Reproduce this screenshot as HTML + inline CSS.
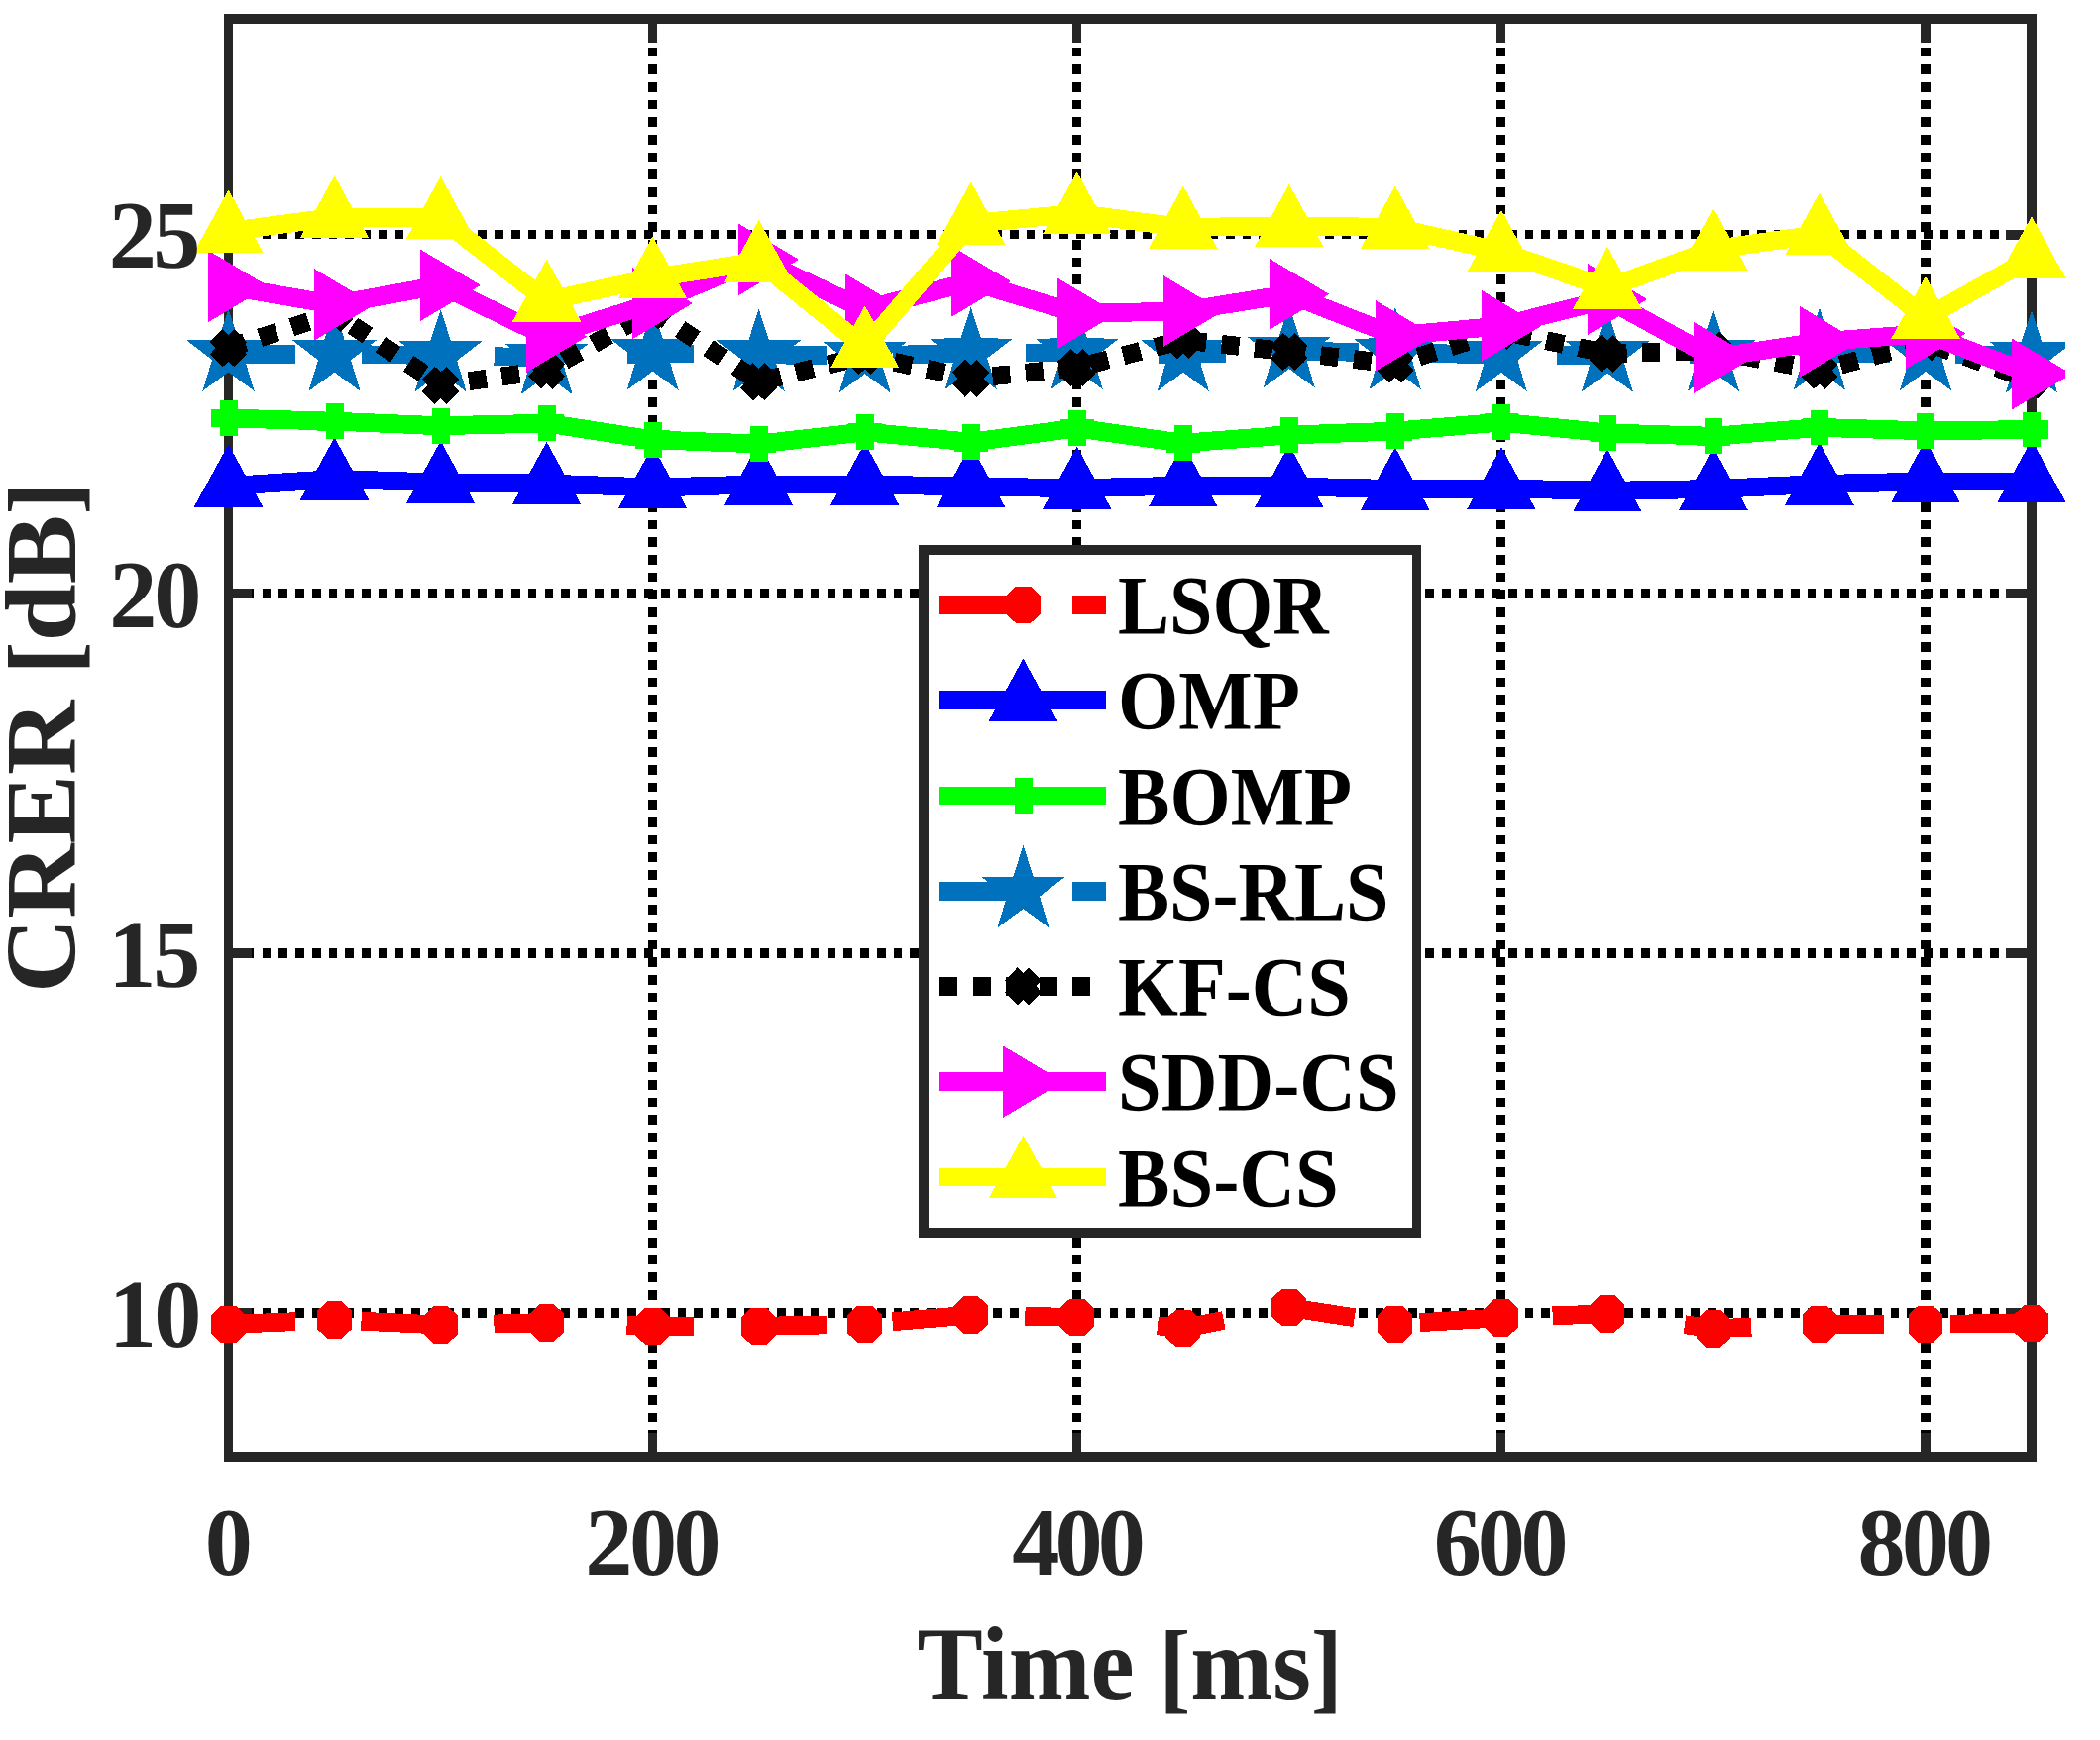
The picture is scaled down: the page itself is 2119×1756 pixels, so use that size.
<!DOCTYPE html>
<html lang="en"><head><meta charset="utf-8"><title>CRER vs Time</title>
<style>html,body{margin:0;padding:0;background:#fff}body{width:2119px;height:1756px;overflow:hidden}</style></head>
<body>
<svg width="2119" height="1756" viewBox="0 0 2119 1756" style="display:block" shape-rendering="crispEdges">
<defs><clipPath id="cp"><rect x="0" y="0" width="2084.1" height="1756"/></clipPath></defs>
<rect width="2119" height="1756" fill="#fff"/>
<g stroke="#000" fill="none">
<line x1="658.6" y1="1470.8" x2="658.6" y2="18.8" stroke-width="9" stroke-dasharray="9.7 7.97"/>
<line x1="1086.7" y1="1470.8" x2="1086.7" y2="18.8" stroke-width="9" stroke-dasharray="9.7 7.97"/>
<line x1="1514.9" y1="1470.8" x2="1514.9" y2="18.8" stroke-width="9" stroke-dasharray="9.7 7.97"/>
<line x1="1943.0" y1="1470.8" x2="1943.0" y2="18.8" stroke-width="10" stroke-dasharray="9.7 7.97"/>
<line x1="231.0" y1="1324.9" x2="2050.0" y2="1324.9" stroke-width="9.9" stroke-dasharray="8.7 8.065"/>
<line x1="231.0" y1="962.1" x2="2050.0" y2="962.1" stroke-width="9.9" stroke-dasharray="8.7 8.065"/>
<line x1="231.0" y1="599.3" x2="2050.0" y2="599.3" stroke-width="9.9" stroke-dasharray="8.7 8.065"/>
<line x1="231.0" y1="236.5" x2="2050.0" y2="236.5" stroke-width="9.9" stroke-dasharray="8.7 8.065"/>
</g>
<g stroke="#262626" fill="none" stroke-width="10">
<line x1="658.6" y1="1470.0" x2="658.6" y2="1445.7" stroke-width="9"/>
<line x1="658.6" y1="18.8" x2="658.6" y2="42.9" stroke-width="9"/>
<line x1="1086.7" y1="1470.0" x2="1086.7" y2="1445.7" stroke-width="9"/>
<line x1="1086.7" y1="18.8" x2="1086.7" y2="42.9" stroke-width="9"/>
<line x1="1514.9" y1="1470.0" x2="1514.9" y2="1445.7" stroke-width="9"/>
<line x1="1514.9" y1="18.8" x2="1514.9" y2="42.9" stroke-width="9"/>
<line x1="1943.0" y1="1470.0" x2="1943.0" y2="1445.7" stroke-width="10"/>
<line x1="1943.0" y1="18.8" x2="1943.0" y2="42.9" stroke-width="10"/>
<line x1="230.5" y1="1324.9" x2="254.3" y2="1324.9"/>
<line x1="2050.0" y1="1324.9" x2="2024.1" y2="1324.9"/>
<line x1="230.5" y1="962.1" x2="254.3" y2="962.1"/>
<line x1="2050.0" y1="962.1" x2="2024.1" y2="962.1"/>
<line x1="230.5" y1="599.3" x2="254.3" y2="599.3"/>
<line x1="2050.0" y1="599.3" x2="2024.1" y2="599.3"/>
<line x1="230.5" y1="236.5" x2="254.3" y2="236.5"/>
<line x1="2050.0" y1="236.5" x2="2024.1" y2="236.5"/>
</g>
<rect x="230.5" y="18.8" width="1819.5" height="1451.2" fill="none" stroke="#262626" stroke-width="9.6"/>
<g clip-path="url(#cp)" shape-rendering="crispEdges">
<polyline fill="none" stroke="#ff0000" stroke-width="18.8" stroke-linejoin="round" points="230.5,1336.5 337.5,1332.0 444.6,1337.0 551.6,1335.0 658.6,1338.3 765.6,1338.3 872.7,1336.2 979.7,1327.0 1086.7,1329.5 1193.8,1340.5 1300.8,1319.5 1407.8,1336.2 1514.9,1329.8 1621.9,1325.8 1728.9,1340.8 1835.9,1336.2 1943.0,1336.2 2050.0,1335.5" stroke-dasharray="67.6 66.5"/>
<polygon fill="#ff0000" points="223.1,1317.8 237.9,1317.8 247.9,1327.3 247.9,1345.7 237.9,1355.2 223.1,1355.2 213.1,1345.7 213.1,1327.3"/>
<polygon fill="#ff0000" points="330.1,1313.2 344.9,1313.2 354.9,1322.8 354.9,1341.2 344.9,1350.8 330.1,1350.8 320.1,1341.2 320.1,1322.8"/>
<polygon fill="#ff0000" points="437.2,1318.2 452.0,1318.2 462.0,1327.8 462.0,1346.2 452.0,1355.8 437.2,1355.8 427.2,1346.2 427.2,1327.8"/>
<polygon fill="#ff0000" points="544.2,1316.2 559.0,1316.2 569.0,1325.8 569.0,1344.2 559.0,1353.8 544.2,1353.8 534.2,1344.2 534.2,1325.8"/>
<polygon fill="#ff0000" points="651.2,1319.5 666.0,1319.5 676.0,1329.1 676.0,1347.5 666.0,1357.0 651.2,1357.0 641.2,1347.5 641.2,1329.1"/>
<polygon fill="#ff0000" points="758.2,1319.5 773.0,1319.5 783.0,1329.1 783.0,1347.5 773.0,1357.0 758.2,1357.0 748.2,1347.5 748.2,1329.1"/>
<polygon fill="#ff0000" points="865.3,1317.5 880.1,1317.5 890.1,1327.0 890.1,1345.4 880.1,1355.0 865.3,1355.0 855.3,1345.4 855.3,1327.0"/>
<polygon fill="#ff0000" points="972.3,1308.2 987.1,1308.2 997.1,1317.8 997.1,1336.2 987.1,1345.8 972.3,1345.8 962.3,1336.2 962.3,1317.8"/>
<polygon fill="#ff0000" points="1079.3,1310.8 1094.1,1310.8 1104.1,1320.3 1104.1,1338.7 1094.1,1348.2 1079.3,1348.2 1069.3,1338.7 1069.3,1320.3"/>
<polygon fill="#ff0000" points="1186.4,1321.8 1201.2,1321.8 1211.2,1331.3 1211.2,1349.7 1201.2,1359.2 1186.4,1359.2 1176.4,1349.7 1176.4,1331.3"/>
<polygon fill="#ff0000" points="1293.4,1300.8 1308.2,1300.8 1318.2,1310.3 1318.2,1328.7 1308.2,1338.2 1293.4,1338.2 1283.4,1328.7 1283.4,1310.3"/>
<polygon fill="#ff0000" points="1400.4,1317.5 1415.2,1317.5 1425.2,1327.0 1425.2,1345.4 1415.2,1355.0 1400.4,1355.0 1390.4,1345.4 1390.4,1327.0"/>
<polygon fill="#ff0000" points="1507.5,1311.0 1522.3,1311.0 1532.3,1320.6 1532.3,1339.0 1522.3,1348.5 1507.5,1348.5 1497.5,1339.0 1497.5,1320.6"/>
<polygon fill="#ff0000" points="1614.5,1307.0 1629.3,1307.0 1639.3,1316.6 1639.3,1335.0 1629.3,1344.5 1614.5,1344.5 1604.5,1335.0 1604.5,1316.6"/>
<polygon fill="#ff0000" points="1721.5,1322.0 1736.3,1322.0 1746.3,1331.6 1746.3,1350.0 1736.3,1359.5 1721.5,1359.5 1711.5,1350.0 1711.5,1331.6"/>
<polygon fill="#ff0000" points="1828.5,1317.5 1843.3,1317.5 1853.3,1327.0 1853.3,1345.4 1843.3,1355.0 1828.5,1355.0 1818.5,1345.4 1818.5,1327.0"/>
<polygon fill="#ff0000" points="1935.6,1317.5 1950.4,1317.5 1960.4,1327.0 1960.4,1345.4 1950.4,1355.0 1935.6,1355.0 1925.6,1345.4 1925.6,1327.0"/>
<polygon fill="#ff0000" points="2042.6,1316.8 2057.4,1316.8 2067.4,1326.3 2067.4,1344.7 2057.4,1354.2 2042.6,1354.2 2032.6,1344.7 2032.6,1326.3"/>
<polyline fill="none" stroke="#0000ff" stroke-width="18.8" stroke-linejoin="round" points="230.5,490.5 337.5,483.5 444.6,487.0 551.6,488.0 658.6,492.0 765.6,489.0 872.7,489.0 979.7,491.0 1086.7,492.7 1193.8,490.2 1300.8,491.0 1407.8,493.5 1514.9,493.0 1621.9,495.3 1728.9,493.5 1835.9,488.5 1943.0,486.0 2050.0,486.0"/>
<polygon fill="#0000ff" points="230.5,448.5 195.8,511.5 265.2,511.5"/>
<polygon fill="#0000ff" points="337.5,441.5 302.8,504.5 372.2,504.5"/>
<polygon fill="#0000ff" points="444.6,445.0 409.9,508.0 479.3,508.0"/>
<polygon fill="#0000ff" points="551.6,446.0 516.9,509.0 586.3,509.0"/>
<polygon fill="#0000ff" points="658.6,450.0 623.9,513.0 693.3,513.0"/>
<polygon fill="#0000ff" points="765.6,447.0 730.9,510.0 800.3,510.0"/>
<polygon fill="#0000ff" points="872.7,447.0 838.0,510.0 907.4,510.0"/>
<polygon fill="#0000ff" points="979.7,449.0 945.0,512.0 1014.4,512.0"/>
<polygon fill="#0000ff" points="1086.7,450.7 1052.0,513.7 1121.4,513.7"/>
<polygon fill="#0000ff" points="1193.8,448.2 1159.1,511.2 1228.5,511.2"/>
<polygon fill="#0000ff" points="1300.8,449.0 1266.1,512.0 1335.5,512.0"/>
<polygon fill="#0000ff" points="1407.8,451.5 1373.1,514.5 1442.5,514.5"/>
<polygon fill="#0000ff" points="1514.9,451.0 1480.2,514.0 1549.6,514.0"/>
<polygon fill="#0000ff" points="1621.9,453.3 1587.2,516.3 1656.6,516.3"/>
<polygon fill="#0000ff" points="1728.9,451.5 1694.2,514.5 1763.6,514.5"/>
<polygon fill="#0000ff" points="1835.9,446.5 1801.2,509.5 1870.6,509.5"/>
<polygon fill="#0000ff" points="1943.0,444.0 1908.3,507.0 1977.7,507.0"/>
<polygon fill="#0000ff" points="2050.0,444.0 2015.3,507.0 2084.7,507.0"/>
<polyline fill="none" stroke="#00ff00" stroke-width="18.8" stroke-linejoin="round" points="230.5,422.0 337.5,425.2 444.6,429.7 551.6,427.1 658.6,443.8 765.6,448.0 872.7,435.9 979.7,446.2 1086.7,432.0 1193.8,447.2 1300.8,439.0 1407.8,435.1 1514.9,426.1 1621.9,436.9 1728.9,440.3 1835.9,431.4 1943.0,434.8 2050.0,433.5"/>
<polygon fill="#00ff00" points="221.5,404.1 239.5,404.1 239.5,412.6 247.7,412.6 247.7,431.4 239.5,431.4 239.5,439.9 221.5,439.9 221.5,431.4 213.3,431.4 213.3,412.6 221.5,412.6"/>
<polygon fill="#00ff00" points="328.5,407.3 346.5,407.3 346.5,415.8 354.7,415.8 354.7,434.6 346.5,434.6 346.5,443.1 328.5,443.1 328.5,434.6 320.3,434.6 320.3,415.8 328.5,415.8"/>
<polygon fill="#00ff00" points="435.6,411.8 453.6,411.8 453.6,420.3 461.8,420.3 461.8,439.1 453.6,439.1 453.6,447.6 435.6,447.6 435.6,439.1 427.4,439.1 427.4,420.3 435.6,420.3"/>
<polygon fill="#00ff00" points="542.6,409.2 560.6,409.2 560.6,417.7 568.8,417.7 568.8,436.5 560.6,436.5 560.6,445.0 542.6,445.0 542.6,436.5 534.4,436.5 534.4,417.7 542.6,417.7"/>
<polygon fill="#00ff00" points="649.6,425.9 667.6,425.9 667.6,434.4 675.8,434.4 675.8,453.2 667.6,453.2 667.6,461.7 649.6,461.7 649.6,453.2 641.4,453.2 641.4,434.4 649.6,434.4"/>
<polygon fill="#00ff00" points="756.6,430.1 774.6,430.1 774.6,438.6 782.8,438.6 782.8,457.4 774.6,457.4 774.6,465.9 756.6,465.9 756.6,457.4 748.4,457.4 748.4,438.6 756.6,438.6"/>
<polygon fill="#00ff00" points="863.7,418.0 881.7,418.0 881.7,426.5 889.9,426.5 889.9,445.3 881.7,445.3 881.7,453.8 863.7,453.8 863.7,445.3 855.5,445.3 855.5,426.5 863.7,426.5"/>
<polygon fill="#00ff00" points="970.7,428.3 988.7,428.3 988.7,436.8 996.9,436.8 996.9,455.6 988.7,455.6 988.7,464.1 970.7,464.1 970.7,455.6 962.5,455.6 962.5,436.8 970.7,436.8"/>
<polygon fill="#00ff00" points="1077.7,414.1 1095.7,414.1 1095.7,422.6 1103.9,422.6 1103.9,441.4 1095.7,441.4 1095.7,449.9 1077.7,449.9 1077.7,441.4 1069.5,441.4 1069.5,422.6 1077.7,422.6"/>
<polygon fill="#00ff00" points="1184.8,429.3 1202.8,429.3 1202.8,437.8 1211.0,437.8 1211.0,456.6 1202.8,456.6 1202.8,465.1 1184.8,465.1 1184.8,456.6 1176.6,456.6 1176.6,437.8 1184.8,437.8"/>
<polygon fill="#00ff00" points="1291.8,421.1 1309.8,421.1 1309.8,429.6 1318.0,429.6 1318.0,448.4 1309.8,448.4 1309.8,456.9 1291.8,456.9 1291.8,448.4 1283.6,448.4 1283.6,429.6 1291.8,429.6"/>
<polygon fill="#00ff00" points="1398.8,417.2 1416.8,417.2 1416.8,425.7 1425.0,425.7 1425.0,444.5 1416.8,444.5 1416.8,453.0 1398.8,453.0 1398.8,444.5 1390.6,444.5 1390.6,425.7 1398.8,425.7"/>
<polygon fill="#00ff00" points="1505.9,408.2 1523.9,408.2 1523.9,416.7 1532.1,416.7 1532.1,435.5 1523.9,435.5 1523.9,444.0 1505.9,444.0 1505.9,435.5 1497.7,435.5 1497.7,416.7 1505.9,416.7"/>
<polygon fill="#00ff00" points="1612.9,419.0 1630.9,419.0 1630.9,427.5 1639.1,427.5 1639.1,446.3 1630.9,446.3 1630.9,454.8 1612.9,454.8 1612.9,446.3 1604.7,446.3 1604.7,427.5 1612.9,427.5"/>
<polygon fill="#00ff00" points="1719.9,422.4 1737.9,422.4 1737.9,430.9 1746.1,430.9 1746.1,449.7 1737.9,449.7 1737.9,458.2 1719.9,458.2 1719.9,449.7 1711.7,449.7 1711.7,430.9 1719.9,430.9"/>
<polygon fill="#00ff00" points="1826.9,413.5 1844.9,413.5 1844.9,422.0 1853.1,422.0 1853.1,440.8 1844.9,440.8 1844.9,449.3 1826.9,449.3 1826.9,440.8 1818.7,440.8 1818.7,422.0 1826.9,422.0"/>
<polygon fill="#00ff00" points="1934.0,416.9 1952.0,416.9 1952.0,425.4 1960.2,425.4 1960.2,444.2 1952.0,444.2 1952.0,452.7 1934.0,452.7 1934.0,444.2 1925.8,444.2 1925.8,425.4 1934.0,425.4"/>
<polygon fill="#00ff00" points="2041.0,415.6 2059.0,415.6 2059.0,424.1 2067.2,424.1 2067.2,442.9 2059.0,442.9 2059.0,451.4 2041.0,451.4 2041.0,442.9 2032.8,442.9 2032.8,424.1 2041.0,424.1"/>
<polyline fill="none" stroke="#0072bd" stroke-width="18.8" stroke-linejoin="round" points="230.5,357.5 337.5,357.7 444.6,358.3 551.6,361.0 658.6,356.7 765.6,357.7 872.7,359.3 979.7,355.9 1086.7,355.9 1193.8,357.7 1300.8,354.2 1407.8,355.9 1514.9,358.0 1621.9,358.5 1728.9,357.7 1835.9,356.5 1943.0,357.0 2050.0,359.3" stroke-dasharray="67.6 66.5"/>
<polygon fill="#0072bd" points="230.5,311.5 240.7,342.9 272.7,343.3 247.0,363.1 256.6,394.7 230.5,375.5 204.4,394.7 214.0,363.1 188.3,343.3 220.3,342.9"/>
<polygon fill="#0072bd" points="337.5,311.7 347.7,343.1 379.7,343.5 354.0,363.3 363.6,394.9 337.5,375.7 311.4,394.9 321.0,363.3 295.3,343.5 327.3,343.1"/>
<polygon fill="#0072bd" points="444.6,312.3 454.8,343.7 486.8,344.1 461.1,363.9 470.7,395.5 444.6,376.3 418.5,395.5 428.0,363.9 402.3,344.1 434.3,343.7"/>
<polygon fill="#0072bd" points="551.6,315.0 561.8,346.4 593.8,346.8 568.1,366.6 577.7,398.2 551.6,379.0 525.5,398.2 535.1,366.6 509.4,346.8 541.4,346.4"/>
<polygon fill="#0072bd" points="658.6,310.7 668.8,342.1 700.8,342.5 675.1,362.3 684.7,393.9 658.6,374.7 632.5,393.9 642.1,362.3 616.4,342.5 648.4,342.1"/>
<polygon fill="#0072bd" points="765.6,311.7 775.9,343.1 807.9,343.5 782.2,363.3 791.7,394.9 765.6,375.7 739.6,394.9 749.1,363.3 723.4,343.5 755.4,343.1"/>
<polygon fill="#0072bd" points="872.7,313.3 882.9,344.7 914.9,345.1 889.2,364.9 898.8,396.5 872.7,377.3 846.6,396.5 856.2,364.9 830.5,345.1 862.5,344.7"/>
<polygon fill="#0072bd" points="979.7,309.9 989.9,341.3 1021.9,341.7 996.2,361.5 1005.8,393.1 979.7,373.9 953.6,393.1 963.2,361.5 937.5,341.7 969.5,341.3"/>
<polygon fill="#0072bd" points="1086.7,309.9 1096.9,341.3 1129.0,341.7 1103.3,361.5 1112.8,393.1 1086.7,373.9 1060.6,393.1 1070.2,361.5 1044.5,341.7 1076.5,341.3"/>
<polygon fill="#0072bd" points="1193.8,311.7 1204.0,343.1 1236.0,343.5 1210.3,363.3 1219.9,394.9 1193.8,375.7 1167.7,394.9 1177.2,363.3 1151.5,343.5 1183.6,343.1"/>
<polygon fill="#0072bd" points="1300.8,308.2 1311.0,339.6 1343.0,340.0 1317.3,359.8 1326.9,391.4 1300.8,372.2 1274.7,391.4 1284.3,359.8 1258.6,340.0 1290.6,339.6"/>
<polygon fill="#0072bd" points="1407.8,309.9 1418.0,341.3 1450.0,341.7 1424.3,361.5 1433.9,393.1 1407.8,373.9 1381.7,393.1 1391.3,361.5 1365.6,341.7 1397.6,341.3"/>
<polygon fill="#0072bd" points="1514.9,312.0 1525.1,343.4 1557.1,343.8 1531.4,363.6 1540.9,395.2 1514.9,376.0 1488.8,395.2 1498.3,363.6 1472.6,343.8 1504.6,343.4"/>
<polygon fill="#0072bd" points="1621.9,312.5 1632.1,343.9 1664.1,344.3 1638.4,364.1 1648.0,395.7 1621.9,376.5 1595.8,395.7 1605.4,364.1 1579.7,344.3 1611.7,343.9"/>
<polygon fill="#0072bd" points="1728.9,311.7 1739.1,343.1 1771.1,343.5 1745.4,363.3 1755.0,394.9 1728.9,375.7 1702.8,394.9 1712.4,363.3 1686.7,343.5 1718.7,343.1"/>
<polygon fill="#0072bd" points="1835.9,310.5 1846.2,341.9 1878.2,342.3 1852.5,362.1 1862.0,393.7 1835.9,374.5 1809.8,393.7 1819.4,362.1 1793.7,342.3 1825.7,341.9"/>
<polygon fill="#0072bd" points="1943.0,311.0 1953.2,342.4 1985.2,342.8 1959.5,362.6 1969.1,394.2 1943.0,375.0 1916.9,394.2 1926.5,362.6 1900.8,342.8 1932.8,342.4"/>
<polygon fill="#0072bd" points="2050.0,313.3 2060.2,344.7 2092.2,345.1 2066.5,364.9 2076.1,396.5 2050.0,377.3 2023.9,396.5 2033.5,364.9 2007.8,345.1 2039.8,344.7"/>
<line x1="230.5" y1="351.3" x2="337.5" y2="316.0" stroke="#000" stroke-width="18.8" stroke-dasharray="18.11 15.59" stroke-dashoffset="0.31"/>
<line x1="337.5" y1="316.0" x2="444.6" y2="388.8" stroke="#000" stroke-width="18.8" stroke-dasharray="18.30 15.76" stroke-dashoffset="11.93"/>
<line x1="444.6" y1="388.8" x2="551.6" y2="373.6" stroke="#000" stroke-width="18.8" stroke-dasharray="18.04 15.53" stroke-dashoffset="4.84"/>
<line x1="551.6" y1="373.6" x2="658.6" y2="313.5" stroke="#000" stroke-width="18.8" stroke-dasharray="18.23 15.70" stroke-dashoffset="14.06"/>
<line x1="658.6" y1="313.5" x2="765.6" y2="385.3" stroke="#000" stroke-width="18.8" stroke-dasharray="18.30 15.76" stroke-dashoffset="0.71"/>
<line x1="765.6" y1="385.3" x2="872.7" y2="359.0" stroke="#000" stroke-width="18.8" stroke-dasharray="18.07 15.56" stroke-dashoffset="28.64"/>
<line x1="872.7" y1="359.0" x2="979.7" y2="381.8" stroke="#000" stroke-width="18.8" stroke-dasharray="18.06 15.55" stroke-dashoffset="3.18"/>
<line x1="979.7" y1="381.8" x2="1086.7" y2="371.1" stroke="#000" stroke-width="18.8" stroke-dasharray="18.03 15.52" stroke-dashoffset="11.66"/>
<line x1="1086.7" y1="371.1" x2="1193.8" y2="343.1" stroke="#000" stroke-width="18.8" stroke-dasharray="18.08 15.56" stroke-dashoffset="19.16"/>
<line x1="1193.8" y1="343.1" x2="1300.8" y2="355.0" stroke="#000" stroke-width="18.8" stroke-dasharray="18.03 15.53" stroke-dashoffset="28.07"/>
<line x1="1300.8" y1="355.0" x2="1407.8" y2="367.4" stroke="#000" stroke-width="18.8" stroke-dasharray="18.03 15.53" stroke-dashoffset="1.56"/>
<line x1="1407.8" y1="367.4" x2="1514.9" y2="334.0" stroke="#000" stroke-width="18.8" stroke-dasharray="18.10 15.58" stroke-dashoffset="9.05"/>
<line x1="1514.9" y1="334.0" x2="1621.9" y2="356.8" stroke="#000" stroke-width="18.8" stroke-dasharray="18.06 15.55" stroke-dashoffset="20.82"/>
<line x1="1621.9" y1="356.8" x2="1728.9" y2="353.5" stroke="#000" stroke-width="18.8" stroke-dasharray="18.02 15.52" stroke-dashoffset="31.80"/>
<line x1="1728.9" y1="353.5" x2="1835.9" y2="373.9" stroke="#000" stroke-width="18.8" stroke-dasharray="18.05 15.54" stroke-dashoffset="3.49"/>
<line x1="1835.9" y1="373.9" x2="1943.0" y2="345.3" stroke="#000" stroke-width="18.8" stroke-dasharray="18.08 15.57" stroke-dashoffset="11.68"/>
<line x1="1943.0" y1="345.3" x2="2050.0" y2="383.5" stroke="#000" stroke-width="18.8" stroke-dasharray="18.12 15.60" stroke-dashoffset="25.11"/>
<polygon fill="#000000" points="224.6,332.3 230.5,337.8 236.4,332.3 249.2,345.2 243.6,351.3 249.2,357.4 236.4,370.3 230.5,364.8 224.6,370.3 211.8,357.4 217.4,351.3 211.8,345.2"/>
<polygon fill="#000000" points="331.6,297.0 337.5,302.5 343.4,297.0 356.2,309.9 350.6,316.0 356.2,322.1 343.4,335.0 337.5,329.5 331.6,335.0 318.8,322.1 324.4,316.0 318.8,309.9"/>
<polygon fill="#000000" points="438.7,369.8 444.6,375.3 450.5,369.8 463.3,382.7 457.7,388.8 463.3,394.9 450.5,407.8 444.6,402.3 438.7,407.8 425.9,394.9 431.5,388.8 425.9,382.7"/>
<polygon fill="#000000" points="545.7,354.6 551.6,360.1 557.5,354.6 570.3,367.5 564.7,373.6 570.3,379.7 557.5,392.6 551.6,387.1 545.7,392.6 532.9,379.7 538.5,373.6 532.9,367.5"/>
<polygon fill="#000000" points="652.7,294.5 658.6,300.0 664.5,294.5 677.3,307.4 671.7,313.5 677.3,319.6 664.5,332.5 658.6,327.0 652.7,332.5 639.9,319.6 645.5,313.5 639.9,307.4"/>
<polygon fill="#000000" points="759.7,366.3 765.6,371.8 771.5,366.3 784.3,379.2 778.7,385.3 784.3,391.4 771.5,404.3 765.6,398.8 759.7,404.3 746.9,391.4 752.5,385.3 746.9,379.2"/>
<polygon fill="#000000" points="866.8,340.0 872.7,345.5 878.6,340.0 891.4,352.9 885.8,359.0 891.4,365.1 878.6,378.0 872.7,372.5 866.8,378.0 854.0,365.1 859.6,359.0 854.0,352.9"/>
<polygon fill="#000000" points="973.8,362.8 979.7,368.3 985.6,362.8 998.4,375.7 992.8,381.8 998.4,387.9 985.6,400.8 979.7,395.3 973.8,400.8 961.0,387.9 966.6,381.8 961.0,375.7"/>
<polygon fill="#000000" points="1080.8,352.1 1086.7,357.6 1092.6,352.1 1105.4,365.0 1099.8,371.1 1105.4,377.2 1092.6,390.1 1086.7,384.6 1080.8,390.1 1068.0,377.2 1073.6,371.1 1068.0,365.0"/>
<polygon fill="#000000" points="1187.9,324.1 1193.8,329.6 1199.7,324.1 1212.5,337.0 1206.9,343.1 1212.5,349.2 1199.7,362.1 1193.8,356.6 1187.9,362.1 1175.1,349.2 1180.7,343.1 1175.1,337.0"/>
<polygon fill="#000000" points="1294.9,336.0 1300.8,341.5 1306.7,336.0 1319.5,348.9 1313.9,355.0 1319.5,361.1 1306.7,374.0 1300.8,368.5 1294.9,374.0 1282.1,361.1 1287.7,355.0 1282.1,348.9"/>
<polygon fill="#000000" points="1401.9,348.4 1407.8,353.9 1413.7,348.4 1426.5,361.3 1420.9,367.4 1426.5,373.5 1413.7,386.4 1407.8,380.9 1401.9,386.4 1389.1,373.5 1394.7,367.4 1389.1,361.3"/>
<polygon fill="#000000" points="1509.0,315.0 1514.9,320.5 1520.8,315.0 1533.6,327.9 1528.0,334.0 1533.6,340.1 1520.8,353.0 1514.9,347.5 1509.0,353.0 1496.2,340.1 1501.8,334.0 1496.2,327.9"/>
<polygon fill="#000000" points="1616.0,337.8 1621.9,343.3 1627.8,337.8 1640.6,350.7 1635.0,356.8 1640.6,362.9 1627.8,375.8 1621.9,370.3 1616.0,375.8 1603.2,362.9 1608.8,356.8 1603.2,350.7"/>
<polygon fill="#000000" points="1723.0,334.5 1728.9,340.0 1734.8,334.5 1747.6,347.4 1742.0,353.5 1747.6,359.6 1734.8,372.5 1728.9,367.0 1723.0,372.5 1710.2,359.6 1715.8,353.5 1710.2,347.4"/>
<polygon fill="#000000" points="1830.0,354.9 1835.9,360.4 1841.8,354.9 1854.6,367.8 1849.0,373.9 1854.6,380.0 1841.8,392.9 1835.9,387.4 1830.0,392.9 1817.2,380.0 1822.8,373.9 1817.2,367.8"/>
<polygon fill="#000000" points="1937.1,326.3 1943.0,331.8 1948.9,326.3 1961.7,339.2 1956.1,345.3 1961.7,351.4 1948.9,364.3 1943.0,358.8 1937.1,364.3 1924.3,351.4 1929.9,345.3 1924.3,339.2"/>
<polygon fill="#000000" points="2044.1,364.5 2050.0,370.0 2055.9,364.5 2068.7,377.4 2063.1,383.5 2068.7,389.6 2055.9,402.5 2050.0,397.0 2044.1,402.5 2031.3,389.6 2036.9,383.5 2031.3,377.4"/>
<polyline fill="none" stroke="#ff00ff" stroke-width="18.8" stroke-linejoin="round" points="230.5,288.9 337.5,307.4 444.6,287.8 551.6,339.7 658.6,306.0 765.6,261.9 872.7,312.2 979.7,284.0 1086.7,316.3 1193.8,314.0 1300.8,296.8 1407.8,338.9 1514.9,328.9 1621.9,302.0 1728.9,360.9 1835.9,344.9 1943.0,336.6 2050.0,377.5"/>
<polygon fill="#ff00ff" points="210.3,252.8 210.3,325.0 270.9,288.9"/>
<polygon fill="#ff00ff" points="317.3,271.3 317.3,343.5 377.9,307.4"/>
<polygon fill="#ff00ff" points="424.4,251.7 424.4,323.9 485.0,287.8"/>
<polygon fill="#ff00ff" points="531.4,303.6 531.4,375.8 592.0,339.7"/>
<polygon fill="#ff00ff" points="638.4,269.9 638.4,342.1 699.0,306.0"/>
<polygon fill="#ff00ff" points="745.4,225.8 745.4,298.0 806.0,261.9"/>
<polygon fill="#ff00ff" points="852.5,276.1 852.5,348.3 913.1,312.2"/>
<polygon fill="#ff00ff" points="959.5,247.9 959.5,320.1 1020.1,284.0"/>
<polygon fill="#ff00ff" points="1066.5,280.2 1066.5,352.4 1127.1,316.3"/>
<polygon fill="#ff00ff" points="1173.6,277.9 1173.6,350.1 1234.2,314.0"/>
<polygon fill="#ff00ff" points="1280.6,260.7 1280.6,332.9 1341.2,296.8"/>
<polygon fill="#ff00ff" points="1387.6,302.8 1387.6,375.0 1448.2,338.9"/>
<polygon fill="#ff00ff" points="1494.7,292.8 1494.7,365.0 1555.3,328.9"/>
<polygon fill="#ff00ff" points="1601.7,265.9 1601.7,338.1 1662.3,302.0"/>
<polygon fill="#ff00ff" points="1708.7,324.8 1708.7,397.0 1769.3,360.9"/>
<polygon fill="#ff00ff" points="1815.7,308.8 1815.7,381.0 1876.3,344.9"/>
<polygon fill="#ff00ff" points="1922.8,300.5 1922.8,372.7 1983.4,336.6"/>
<polygon fill="#ff00ff" points="2029.8,341.4 2029.8,413.6 2090.4,377.5"/>
<polyline fill="none" stroke="#ffff00" stroke-width="18.8" stroke-linejoin="round" points="230.5,233.5 337.5,219.2 444.6,220.0 551.6,303.6 658.6,280.4 765.6,263.8 872.7,350.3 979.7,225.5 1086.7,215.3 1193.8,229.5 1300.8,227.8 1407.8,229.5 1514.9,253.8 1621.9,290.5 1728.9,251.6 1835.9,236.4 1943.0,320.6 2050.0,260.3"/>
<polygon fill="#ffff00" points="230.5,191.5 195.8,254.5 265.2,254.5"/>
<polygon fill="#ffff00" points="337.5,177.2 302.8,240.2 372.2,240.2"/>
<polygon fill="#ffff00" points="444.6,178.0 409.9,241.0 479.3,241.0"/>
<polygon fill="#ffff00" points="551.6,261.6 516.9,324.6 586.3,324.6"/>
<polygon fill="#ffff00" points="658.6,238.4 623.9,301.4 693.3,301.4"/>
<polygon fill="#ffff00" points="765.6,221.8 730.9,284.8 800.3,284.8"/>
<polygon fill="#ffff00" points="872.7,308.3 838.0,371.3 907.4,371.3"/>
<polygon fill="#ffff00" points="979.7,183.5 945.0,246.5 1014.4,246.5"/>
<polygon fill="#ffff00" points="1086.7,173.3 1052.0,236.3 1121.4,236.3"/>
<polygon fill="#ffff00" points="1193.8,187.5 1159.1,250.5 1228.5,250.5"/>
<polygon fill="#ffff00" points="1300.8,185.8 1266.1,248.8 1335.5,248.8"/>
<polygon fill="#ffff00" points="1407.8,187.5 1373.1,250.5 1442.5,250.5"/>
<polygon fill="#ffff00" points="1514.9,211.8 1480.2,274.8 1549.6,274.8"/>
<polygon fill="#ffff00" points="1621.9,248.5 1587.2,311.5 1656.6,311.5"/>
<polygon fill="#ffff00" points="1728.9,209.6 1694.2,272.6 1763.6,272.6"/>
<polygon fill="#ffff00" points="1835.9,194.4 1801.2,257.4 1870.6,257.4"/>
<polygon fill="#ffff00" points="1943.0,278.6 1908.3,341.6 1977.7,341.6"/>
<polygon fill="#ffff00" points="2050.0,218.3 2015.3,281.3 2084.7,281.3"/>
</g>
<rect x="932.0" y="555.0" width="497.5" height="689.0" fill="#fff" stroke="#262626" stroke-width="9.6"/>
<g font-family="'Liberation Serif', 'Times New Roman', serif" font-weight="bold">
<line shape-rendering="crispEdges" x1="948" y1="610.3" x2="1116" y2="610.3" stroke="#ff0000" stroke-width="18.8" stroke-dasharray="67.6 66.5"/>
<polygon shape-rendering="crispEdges" fill="#ff0000" points="1025.1,591.5 1039.9,591.5 1049.9,601.1 1049.9,619.5 1039.9,629.0 1025.1,629.0 1015.1,619.5 1015.1,601.1"/>
<text x="1128.0" y="640.0" font-size="85" fill="#000" textLength="212.8" lengthAdjust="spacingAndGlyphs">LSQR</text>
<line shape-rendering="crispEdges" x1="948" y1="706.6" x2="1116" y2="706.6" stroke="#0000ff" stroke-width="18.8"/>
<polygon shape-rendering="crispEdges" fill="#0000ff" points="1032.5,664.6 997.8,727.6 1067.2,727.6"/>
<text x="1128.0" y="736.3" font-size="85" fill="#000" textLength="184.0" lengthAdjust="spacingAndGlyphs">OMP</text>
<line shape-rendering="crispEdges" x1="948" y1="802.9" x2="1116" y2="802.9" stroke="#00ff00" stroke-width="18.8"/>
<polygon shape-rendering="crispEdges" fill="#00ff00" points="1023.5,785.0 1041.5,785.0 1041.5,793.5 1049.7,793.5 1049.7,812.3 1041.5,812.3 1041.5,820.8 1023.5,820.8 1023.5,812.3 1015.3,812.3 1015.3,793.5 1023.5,793.5"/>
<text x="1128.0" y="832.6" font-size="85" fill="#000" textLength="236.0" lengthAdjust="spacingAndGlyphs">BOMP</text>
<line shape-rendering="crispEdges" x1="948" y1="899.1" x2="1116" y2="899.1" stroke="#0072bd" stroke-width="18.8" stroke-dasharray="67.6 66.5"/>
<polygon shape-rendering="crispEdges" fill="#0072bd" points="1032.5,853.1 1042.7,884.6 1074.7,884.9 1049.0,904.7 1058.6,936.4 1032.5,917.1 1006.4,936.4 1016.0,904.7 990.3,884.9 1022.3,884.6"/>
<text x="1128.0" y="928.8" font-size="85" fill="#000" textLength="273.4" lengthAdjust="spacingAndGlyphs">BS-RLS</text>
<line shape-rendering="crispEdges" x1="948" y1="995.4" x2="1116" y2="995.4" stroke="#000000" stroke-width="18.8" stroke-dasharray="18 15.5"/>
<polygon shape-rendering="crispEdges" fill="#000000" points="1026.6,976.4 1032.5,981.9 1038.4,976.4 1051.2,989.3 1045.6,995.4 1051.2,1001.5 1038.4,1014.4 1032.5,1008.9 1026.6,1014.4 1013.8,1001.5 1019.4,995.4 1013.8,989.3"/>
<text x="1128.0" y="1025.1" font-size="85" fill="#000" textLength="234.9" lengthAdjust="spacingAndGlyphs">KF-CS</text>
<line shape-rendering="crispEdges" x1="948" y1="1091.7" x2="1116" y2="1091.7" stroke="#ff00ff" stroke-width="18.8"/>
<polygon shape-rendering="crispEdges" fill="#ff00ff" points="1012.3,1055.6 1012.3,1127.8 1072.9,1091.7"/>
<text x="1128.0" y="1121.4" font-size="85" fill="#000" textLength="283.7" lengthAdjust="spacingAndGlyphs">SDD-CS</text>
<line shape-rendering="crispEdges" x1="948" y1="1188.0" x2="1116" y2="1188.0" stroke="#ffff00" stroke-width="18.8"/>
<polygon shape-rendering="crispEdges" fill="#ffff00" points="1032.5,1146.0 997.8,1209.0 1067.2,1209.0"/>
<text x="1128.0" y="1217.7" font-size="85" fill="#000" textLength="222.8" lengthAdjust="spacingAndGlyphs">BS-CS</text>
<text x="206.7" y="1589.1" font-size="96.3" fill="#262626" style="letter-spacing:0.00px">0</text>
<text x="590.3" y="1589.1" font-size="96.3" fill="#262626" style="letter-spacing:-3.50px">200</text>
<text x="1021.3" y="1589.1" font-size="96.3" fill="#262626" style="letter-spacing:-4.90px">400</text>
<text x="1446.7" y="1589.1" font-size="96.3" fill="#262626" style="letter-spacing:-4.20px">600</text>
<text x="1874.6" y="1589.1" font-size="96.3" fill="#262626" style="letter-spacing:-3.90px">800</text>
<text x="109.8" y="1358.5" font-size="96.3" fill="#262626" style="letter-spacing:-2.80px">10</text>
<text x="109.3" y="995.7" font-size="96.3" fill="#262626" style="letter-spacing:-3.30px">15</text>
<text x="110.3" y="632.9" font-size="96.3" fill="#262626" style="letter-spacing:-3.30px">20</text>
<text x="109.8" y="270.1" font-size="96.3" fill="#262626" style="letter-spacing:-3.80px">25</text>
<text font-size="106" fill="#262626" transform="translate(925.6,1715) scale(0.9375,1)">Time <tspan font-size="102.3" dy="1">[</tspan><tspan dy="-1">ms</tspan><tspan font-size="102.3" dy="1">]</tspan></text>
<text font-size="106" fill="#262626" transform="translate(75.9,1002.1) rotate(-90) scale(0.9834,0.965)">CRER <tspan font-size="102.3" dy="1.4">[</tspan><tspan dy="-1.4">dB</tspan><tspan font-size="102.3" dy="1.4">]</tspan></text>
</g>
</svg>
</body></html>
